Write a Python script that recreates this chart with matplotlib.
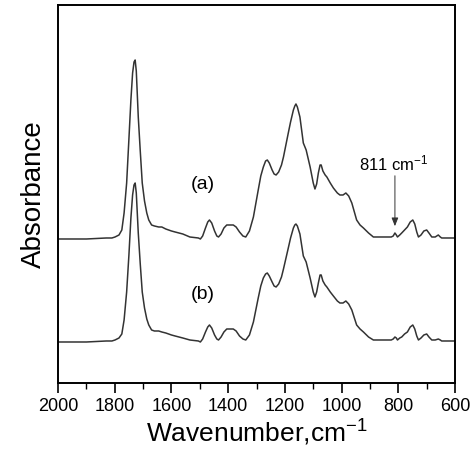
import numpy as np
import matplotlib
matplotlib.use("Agg")
import matplotlib.pyplot as plt
from matplotlib.ticker import MultipleLocator

plt.rcParams["font.family"] = ["Liberation Sans", "DejaVu Sans"]
plt.rcParams["mathtext.fontset"] = "custom"
plt.rcParams["mathtext.rm"] = "Liberation Sans"
plt.rcParams["mathtext.it"] = "Liberation Sans:italic"

# wavenumber grid (cm-1)
wavenumber = [2000, 1900, 1830, 1810, 1799, 1785, 1775, 1767, 1758, 1750,
              1743, 1737, 1732, 1728, 1724, 1717, 1710, 1703, 1695, 1687,
              1680, 1670, 1660, 1645, 1634, 1620, 1600, 1587, 1560, 1535,
              1505, 1498, 1490, 1480, 1472, 1466, 1458, 1448, 1440, 1434,
              1425, 1415, 1405, 1395, 1382, 1372, 1360, 1348, 1338, 1325,
              1311, 1294, 1285, 1276, 1268, 1262, 1255, 1245, 1238, 1231,
              1222, 1212, 1205, 1188, 1180, 1170, 1165, 1161, 1156, 1147,
              1135, 1125, 1111, 1100, 1094, 1088, 1082, 1076, 1072, 1066,
              1058, 1052, 1040, 1029, 1015, 1006, 995, 985, 975, 964,
              955, 947, 935, 923, 905, 888, 860, 841, 825, 818,
              812, 807, 803, 795, 788, 778, 768, 758, 749, 742,
              735, 729, 720, 710, 700, 692, 682, 670, 659, 652,
              647, 612, 600]

# absorbance above each trace's own baseline
spec_a = [0.00, 0.00, 0.01, 0.01, 0.02, 0.04, 0.09, 0.26, 0.56, 1.00,
          1.39, 1.66, 1.77, 1.79, 1.68, 1.22, 0.88, 0.56, 0.38, 0.26,
          0.19, 0.14, 0.13, 0.12, 0.12, 0.10, 0.08, 0.07, 0.05, 0.02,
          0.01, 0.00, 0.03, 0.11, 0.17, 0.19, 0.16, 0.08, 0.03, 0.02,
          0.05, 0.11, 0.14, 0.14, 0.14, 0.12, 0.07, 0.03, 0.02, 0.08,
          0.22, 0.49, 0.63, 0.72, 0.78, 0.79, 0.76, 0.69, 0.65, 0.64,
          0.67, 0.74, 0.82, 1.06, 1.17, 1.29, 1.33, 1.35, 1.32, 1.22,
          0.96, 0.89, 0.72, 0.56, 0.50, 0.55, 0.66, 0.74, 0.74, 0.68,
          0.64, 0.62, 0.56, 0.51, 0.46, 0.44, 0.44, 0.46, 0.43, 0.36,
          0.27, 0.19, 0.14, 0.11, 0.06, 0.02, 0.02, 0.02, 0.02, 0.03,
          0.06, 0.04, 0.02, 0.04, 0.06, 0.09, 0.12, 0.17, 0.19, 0.15,
          0.07, 0.02, 0.04, 0.08, 0.09, 0.06, 0.02, 0.02, 0.04, 0.02,
          0.01, 0.01, 0.01]

spec_b = [0.00, 0.00, 0.01, 0.01, 0.02, 0.04, 0.08, 0.22, 0.50, 0.87,
          1.24, 1.47, 1.57, 1.59, 1.49, 1.09, 0.78, 0.50, 0.34, 0.23,
          0.17, 0.12, 0.11, 0.11, 0.10, 0.09, 0.07, 0.06, 0.04, 0.02,
          0.01, 0.00, 0.03, 0.10, 0.15, 0.17, 0.14, 0.07, 0.03, 0.02,
          0.05, 0.10, 0.13, 0.13, 0.13, 0.11, 0.06, 0.03, 0.02, 0.07,
          0.20, 0.44, 0.56, 0.64, 0.68, 0.69, 0.66, 0.60, 0.56, 0.55,
          0.58, 0.65, 0.73, 0.94, 1.04, 1.14, 1.17, 1.18, 1.16, 1.08,
          0.86, 0.80, 0.64, 0.50, 0.45, 0.50, 0.59, 0.67, 0.67, 0.61,
          0.57, 0.55, 0.50, 0.46, 0.41, 0.39, 0.39, 0.41, 0.38, 0.32,
          0.24, 0.17, 0.13, 0.10, 0.05, 0.02, 0.02, 0.02, 0.02, 0.03,
          0.05, 0.04, 0.02, 0.04, 0.05, 0.08, 0.10, 0.15, 0.17, 0.13,
          0.06, 0.02, 0.04, 0.07, 0.08, 0.05, 0.02, 0.02, 0.03, 0.02,
          0.01, 0.01, 0.01]

offset_a = 1.44
offset_b = 0.41

fig = plt.figure(figsize=(4.74, 4.54), dpi=100)
ax = fig.add_axes([0.1224, 0.1564, 0.8376, 0.8326])

ax.plot(wavenumber, np.array(spec_a) + offset_a, color="#333333", lw=1.1)
ax.plot(wavenumber, np.array(spec_b) + offset_b, color="#333333", lw=1.1)

ax.text(1488, 1.98, "(a)", fontsize=14, ha="center", va="center")
ax.text(1488, 0.88, "(b)", fontsize=14, ha="center", va="center")

ax.annotate("", xy=(812, 1.54), xytext=(812, 2.10),
            arrowprops=dict(arrowstyle="-|>,head_length=0.5,head_width=0.2",
                            color="#333333", lw=0.7))
ax.text(815, 2.20, r"811 cm$^{-1}$", fontsize=12, ha="center", va="center")

ax.set_xlim(2000, 600)
ax.set_ylim(0, 3.78)
ax.xaxis.set_major_locator(MultipleLocator(200))
ax.xaxis.set_minor_locator(MultipleLocator(100))
ax.tick_params(axis="x", which="major", length=7, width=1.2, labelsize=13, pad=4)
ax.tick_params(axis="x", which="minor", length=4.5, width=1.0)
ax.set_yticks([])
for s in ax.spines.values():
    s.set_linewidth(1.4)

ax.set_xlabel(r"Wavenumber,cm$^{-1}$", fontsize=19, labelpad=2)
ax.set_ylabel("Absorbance", fontsize=20, labelpad=8)

fig.savefig("out.png", dpi=100)
